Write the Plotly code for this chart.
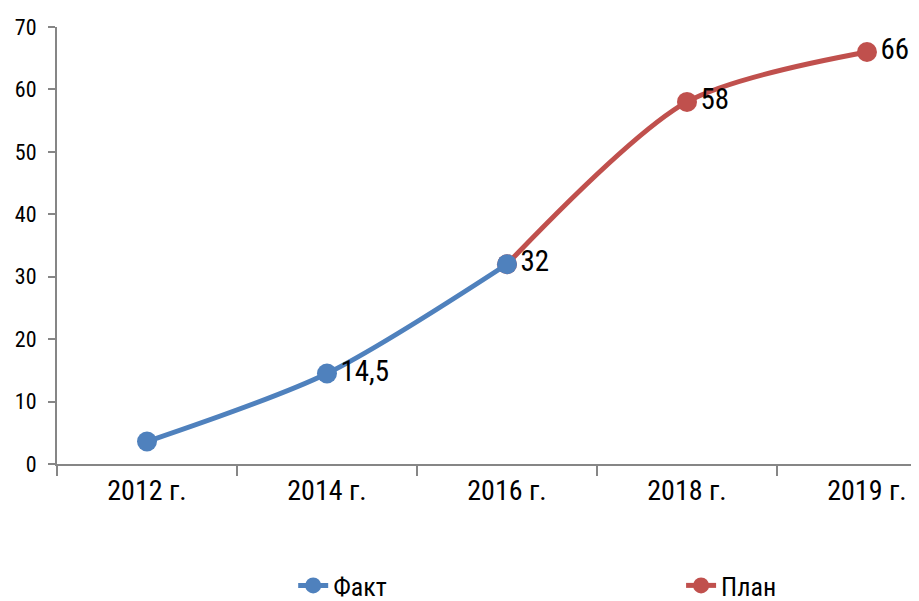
import plotly.graph_objects as go

categories = ["2012 г.", "2014 г.", "2016 г.", "2018 г.", "2019 г."]
fact_x = ["2012 г.", "2014 г.", "2016 г."]
fact_y = [3.6, 14.5, 32]
fact_labels = ["", "14,5", "32"]
plan_x = ["2016 г.", "2018 г.", "2019 г."]
plan_y = [32, 58, 66]
plan_labels = ["", "58", "66"]

FONT = "Roboto Condensed, Roboto, Arial"
AX = "#868686"
BLUE = "#4F81BD"
RED = "#C0504D"

fig = go.Figure()
fig.add_trace(go.Scatter(
    x=plan_x, y=plan_y, name="План", mode="lines+markers+text", legend="legend2",
    line=dict(color=RED, width=5, shape="spline", smoothing=0.8),
    marker=dict(size=20, color=RED),
    text=plan_labels, textposition="middle right",
    textfont=dict(size=29, color="black", family=FONT),
    cliponaxis=False, hoverinfo="x+y",
))
fig.add_trace(go.Scatter(
    x=fact_x, y=fact_y, name="Факт", mode="lines+markers+text", legend="legend",
    line=dict(color=BLUE, width=5, shape="spline", smoothing=0.8),
    marker=dict(size=20, color=BLUE),
    text=fact_labels, textposition="middle right",
    textfont=dict(size=29, color="black", family=FONT),
    cliponaxis=False, hoverinfo="x+y",
))

leg_common = dict(orientation="h", yanchor="middle", xanchor="left",
                  font=dict(size=26, family=FONT, color="black"), bgcolor="rgba(0,0,0,0)")

fig.update_layout(
    width=911, height=593,
    margin=dict(l=49, r=0, t=19, b=137, autoexpand=False),
    plot_bgcolor="white", paper_bgcolor="white",
    font=dict(family=FONT, color="black"),
    showlegend=True,
    legend=dict(x=0.274, y=-0.278, **leg_common),
    legend2=dict(x=0.724, y=-0.278, **leg_common),
    xaxis=dict(
        type="category", categoryorder="array", categoryarray=categories,
        range=[-0.5, 4.289], showgrid=False, showline=True, linecolor=AX, linewidth=2,
        ticks="outside", tickson="boundaries", ticklen=10, tickcolor=AX, tickwidth=1.5,
        tickfont=dict(size=28, family=FONT), zeroline=False, automargin=False,
    ),
    yaxis=dict(
        range=[0, 70], dtick=10, showgrid=False, showline=True, linecolor=AX, linewidth=2,
        ticks="outside", ticklen=7, tickcolor=AX, tickwidth=1.5, ticklabelstandoff=7,
        tickfont=dict(size=22, family=FONT), zeroline=False, automargin=False,
    ),
)

fig.write_html("out.html")
